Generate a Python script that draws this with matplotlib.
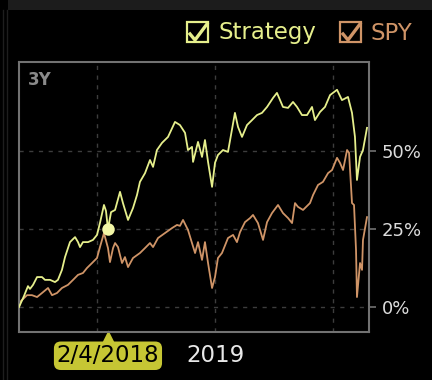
import matplotlib
matplotlib.use("Agg")
import matplotlib.pyplot as plt
from matplotlib.patches import Rectangle
from matplotlib.lines import Line2D
import matplotlib.transforms as mtransforms

# time in decimal years, value in % return
strat_t = [2017.339, 2017.381, 2017.415, 2017.432, 2017.458, 2017.492, 2017.534, 2017.559,
           2017.602, 2017.644, 2017.669, 2017.703, 2017.729, 2017.771, 2017.814, 2017.839,
           2017.856, 2017.881, 2017.924, 2017.966, 2018.000, 2018.025, 2018.059, 2018.076,
           2018.093, 2018.119, 2018.153, 2018.195, 2018.220, 2018.263, 2018.305, 2018.339,
           2018.364, 2018.407, 2018.449, 2018.475, 2018.508, 2018.551, 2018.602, 2018.661,
           2018.703, 2018.746, 2018.771, 2018.805, 2018.814, 2018.856, 2018.890, 2018.915,
           2018.941, 2018.975, 2019.000, 2019.025, 2019.068, 2019.110, 2019.169, 2019.195,
           2019.229, 2019.271, 2019.314, 2019.356, 2019.398, 2019.441, 2019.492, 2019.525,
           2019.576, 2019.619, 2019.661, 2019.695, 2019.737, 2019.780, 2019.822, 2019.847,
           2019.890, 2019.932, 2019.975, 2020.034, 2020.076, 2020.127, 2020.161, 2020.186,
           2020.203, 2020.229, 2020.254, 2020.288]
strat_v = [0.0, 3.5, 6.7, 5.8, 7.1, 9.6, 9.6, 8.7,
           8.7, 8.0, 8.7, 11.9, 16.0, 20.8, 22.4, 20.8,
           19.2, 20.8, 20.8, 21.5, 23.1, 26.9, 32.7, 30.8,
           25.0, 30.4, 31.1, 36.9, 33.3, 27.9, 31.7, 35.9,
           40.1, 42.9, 47.1, 44.9, 50.3, 52.6, 54.5, 59.3,
           58.3, 55.8, 50.3, 51.3, 46.5, 52.9, 48.1, 53.5,
           46.5, 38.5, 46.2, 48.7, 50.3, 49.7, 62.2, 57.7,
           54.5, 58.3, 59.9, 61.5, 62.2, 64.1, 67.0, 68.6,
           64.1, 63.8, 65.7, 64.1, 61.5, 61.5, 64.1, 59.9,
           62.5, 64.1, 67.9, 69.6, 66.3, 67.3, 62.2, 54.5,
           40.7, 48.1, 50.3, 57.4]

spy_t = [2017.339, 2017.347, 2017.407, 2017.449, 2017.492, 2017.534, 2017.585, 2017.619,
         2017.661, 2017.703, 2017.754, 2017.797, 2017.839, 2017.881, 2017.915, 2017.958,
         2018.000, 2018.025, 2018.059, 2018.093, 2018.110, 2018.136, 2018.153, 2018.178,
         2018.212, 2018.237, 2018.263, 2018.305, 2018.364, 2018.407, 2018.449, 2018.475,
         2018.517, 2018.576, 2018.636, 2018.678, 2018.703, 2018.729, 2018.771, 2018.805,
         2018.831, 2018.856, 2018.890, 2018.915, 2018.941, 2018.975, 2019.000, 2019.025,
         2019.059, 2019.110, 2019.153, 2019.186, 2019.212, 2019.254, 2019.297, 2019.322,
         2019.364, 2019.407, 2019.441, 2019.483, 2019.534, 2019.576, 2019.619, 2019.653,
         2019.678, 2019.703, 2019.746, 2019.805, 2019.831, 2019.873, 2019.915, 2019.958,
         2019.992, 2020.034, 2020.059, 2020.085, 2020.119, 2020.136, 2020.161, 2020.178,
         2020.195, 2020.203, 2020.229, 2020.246, 2020.254, 2020.288]
spy_v = [0.0, 1.6, 3.8, 3.8, 3.2, 4.5, 6.1, 3.8,
         4.5, 6.1, 7.1, 8.7, 10.3, 10.9, 12.5, 14.1,
         15.7, 19.2, 23.7, 18.9, 14.4, 18.9, 20.5, 19.2,
         14.1, 16.0, 12.8, 15.7, 17.3, 18.9, 20.5, 19.2,
         22.1, 23.7, 25.3, 26.3, 26.0, 27.9, 24.7, 20.5,
         17.3, 20.8, 15.1, 20.8, 14.1, 6.1, 9.6, 15.7,
         17.3, 22.1, 23.1, 20.8, 24.0, 27.2, 28.5, 29.5,
         26.9, 21.5, 27.2, 30.1, 32.7, 30.1, 28.5, 26.9,
         33.3, 32.1, 31.1, 33.3, 35.9, 39.1, 40.1, 42.9,
         43.9, 47.8, 46.2, 43.9, 50.3, 49.4, 33.3, 32.7,
         18.3, 3.2, 14.1, 11.9, 21.5, 28.8]

hover_idx = 24          # 2/4/2018 on the strategy line
hover_label = "2/4/2018"
yticks = [0, 25, 50]
ytick_labels = ["0%", "25%", "50%"]
xgrid = [2018, 2019, 2020]

c_strat = "#e6ef8c"
c_spy = "#cf9467"
c_tip = "#c6c634"
W, H = 432, 380

fig = plt.figure(figsize=(W / 100, H / 100), dpi=100, facecolor="black")

# window chrome
fig.patches.append(Rectangle((8 / W, 1 - 10 / H), 1, 10 / H, transform=fig.transFigure,
                             facecolor="#1c1c1c", edgecolor="none"))
for xx in (3, 7):
    fig.lines.append(Line2D([xx / W, xx / W], [0, 1 - 10 / H], transform=fig.transFigure,
                            color="#1e1e1e", lw=1))

ax = fig.add_axes([19 / W, 48 / H, 350 / W, 270 / H])
ax.set_facecolor("black")
ax.plot(strat_t, strat_v, color=c_strat, lw=1.3, zorder=3)
ax.plot(spy_t, spy_v, color=c_spy, lw=1.3, zorder=2)
ax.plot(strat_t[hover_idx], strat_v[hover_idx], "o", ms=9, color="#f2f6a6",
        mec="none", zorder=4)

ax.set_xlim(2017.339, 2020.305)
ax.set_ylim(-8.0, 78.5)

for v in yticks:
    ax.axhline(v, color="#3d3d3d", lw=1, ls=(0, (3, 4)), zorder=1)
for g in xgrid:
    ax.axvline(g, color="#3d3d3d", lw=1, ls=(0, (3, 4)), zorder=1)

for s in ax.spines.values():
    s.set_color("#727272")
    s.set_linewidth(1.5)

ax.yaxis.tick_right()
ax.set_yticks(yticks)
ax.set_yticklabels(ytick_labels)
ax.tick_params(axis="y", colors="#727272", labelcolor="#dcdcdc", length=5, width=1.2,
               labelsize=13, pad=4)
ax.set_xticks([2019])
ax.set_xticklabels(["2019"])
ax.tick_params(axis="x", length=0, labelcolor="#e8e8e8", labelsize=16.5, pad=9)

ax.text(0.026, 0.965, "3Y", transform=ax.transAxes, ha="left", va="top",
        color="#8a8a8a", fontsize=12, fontweight="bold")

# hover tooltip under the x axis
trans = mtransforms.blended_transform_factory(ax.transData, ax.transAxes)
ax.text(strat_t[hover_idx], -0.088, hover_label, transform=trans, ha="center", va="center",
        fontsize=16.5, color="black", clip_on=False,
        bbox=dict(boxstyle="round,pad=0.12,rounding_size=0.3", fc=c_tip, ec="none"))
ax.plot([strat_t[hover_idx]], [-0.014], marker="^", ms=8, color=c_tip, mec="none",
        transform=trans, clip_on=False)

# legend with check boxes
def check_item(x0, color, label):
    fig.patches.append(Rectangle((x0 / W, 1 - 42 / H), 21 / W, 20 / H,
                                 transform=fig.transFigure, fill=False,
                                 edgecolor=color, lw=1.6))
    fig.lines.append(Line2D([(x0 + 3) / W, (x0 + 8) / W, (x0 + 20) / W],
                            [1 - 34 / H, 1 - 40 / H, 1 - 24 / H],
                            transform=fig.transFigure, color=color, lw=2.4))
    fig.text((x0 + 31) / W, 1 - 33 / H, label, color=color, fontsize=16.5,
             ha="left", va="center")

check_item(187, c_strat, "Strategy")
check_item(340, c_spy, "SPY")

fig.savefig("out.png", dpi=100, facecolor="black")
